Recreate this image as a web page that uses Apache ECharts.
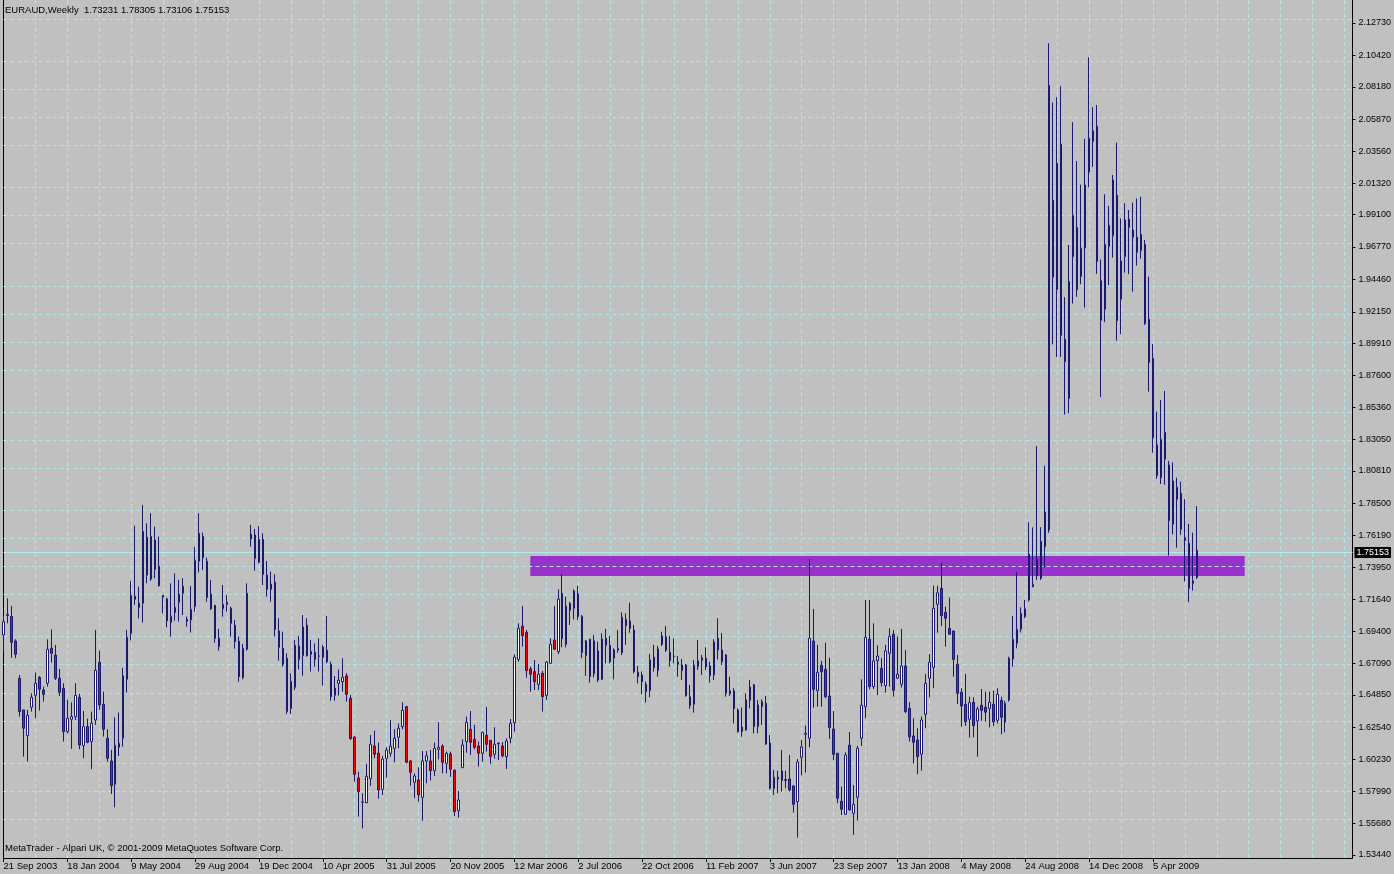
<!DOCTYPE html>
<html><head><meta charset="utf-8">
<script src="https://cdn.jsdelivr.net/npm/echarts@6/dist/echarts.min.js"></script>
<style>html,body{margin:0;padding:0;background:#C0C0C0;}#c{width:1394px;height:874px;}</style>
</head><body><div id="c"></div>
<script>
// Weekly EURAUD bars (index 0 = 21 Sep 2003)
const opens=[
1.6912,1.7050,1.7043,1.6869,1.6603,1.6378,1.6195,1.6397,1.6482,1.6610,
1.6520,1.6568,1.6817,1.6769,1.6603,1.6532,1.6223,1.6311,1.6330,1.6468,
1.6123,1.6259,1.6152,1.6306,1.6717,1.6418,1.6176,1.6014,1.5848,1.6112,
1.6176,1.6596,1.6924,1.7187,1.7138,1.7138,1.7608,1.7311,1.7589,1.7401,
1.7180,1.7168,1.7002,1.7073,1.7145,1.7209,1.7009,1.7019,1.7116,1.7437,
1.7613,1.7437,1.7202,1.7123,1.6829,1.7099,1.7128,1.7102,1.6981,1.6867,
1.6608,1.6810,1.7629,1.7624,1.7430,1.7593,1.7339,1.7237,1.7287,1.6940,
1.6817,1.6746,1.6387,1.6539,1.6833,1.6765,1.6981,1.6774,1.6788,1.6760,
1.6753,1.6803,1.6703,1.6482,1.6567,1.6579,1.6620,1.6461,1.6183,1.5893,
1.5720,1.5717,1.5888,1.6121,1.6069,1.5812,1.6033,1.6069,1.6104,1.6183,
1.6259,1.6401,1.6014,1.5862,1.5879,1.5755,1.6014,1.6014,1.5945,1.6097,
1.6121,1.5997,1.6064,1.5948,1.5660,1.5967,1.6152,1.6240,1.6168,1.6121,
1.6069,1.6197,1.6161,1.6062,1.6137,1.6121,1.6045,1.6176,1.6287,1.6738,
1.6974,1.6931,1.6670,1.6651,1.6560,1.6639,1.6482,1.6710,1.6876,1.6793,
1.7209,1.6845,1.7137,1.7102,1.7204,1.7045,1.6765,1.6881,1.6636,1.6798,
1.6596,1.6888,1.6838,1.6746,1.6805,1.6786,1.7023,1.7012,1.6947,1.6646,
1.6627,1.6560,1.6515,1.6753,1.6658,1.6845,1.6897,1.6788,1.6757,1.6719,
1.6658,1.6698,1.6470,1.6418,1.6686,1.6731,1.6746,1.6691,1.6627,1.6888,
1.6805,1.6769,1.6494,1.6513,1.6377,1.6256,1.6235,1.6446,1.6556,1.6259,
1.6401,1.6425,1.6142,1.5819,1.5898,1.5874,1.5881,1.5886,1.5836,1.5724,
1.6040,1.6204,1.6176,1.6869,1.6515,1.6696,1.6667,1.6477,1.6242,1.6069,
1.5727,1.5634,1.6126,1.5641,1.5755,1.6176,1.6401,1.6883,1.6544,1.6729,
1.6674,1.6551,1.6781,1.6917,1.6603,1.6560,1.6691,1.6389,1.6192,1.6164,
1.6062,1.6347,1.6603,1.6681,1.7130,1.7244,1.7073,1.6959,1.6940,1.6703,
1.6503,1.6418,1.6311,1.6432,1.6299,1.6411,1.6397,1.6389,1.6418,1.6304,
1.6446,1.6290,1.6449,1.6741,1.6852,1.6952,1.7042,1.7161,1.7256,1.7451,
1.7316,1.7540,1.7660,2.0009,1.9373,2.0409,1.9019,1.8597,1.9607,1.9816,
1.9467,1.9670,2.0210,2.0429,2.0536,1.9436,1.9233,1.9679,1.9757,2.0045,
1.9304,1.9608,1.9874,1.9798,1.9746,1.9651,1.9696,1.9161,1.8883,1.8266,
1.8033,1.8356,1.8123,1.7701,1.7964,1.7922,1.7584,1.7565,1.7297,1.73231];
const highs=[
1.7047,1.7173,1.7119,1.6881,1.6627,1.6378,1.6378,1.6496,1.6644,1.6620,
1.6544,1.6881,1.6952,1.6841,1.6670,1.6568,1.6449,1.6432,1.6568,1.6492,
1.6370,1.6316,1.6366,1.6948,1.6800,1.6508,1.6240,1.6093,1.6325,1.6359,
1.6677,1.6948,1.7297,1.7691,1.7256,1.7838,1.7708,1.7779,1.7684,1.7613,
1.7195,1.7178,1.7280,1.7351,1.7304,1.7316,1.7043,1.7261,1.7541,1.7779,
1.7641,1.7463,1.7304,1.7126,1.6955,1.7268,1.7197,1.7114,1.7019,1.6900,
1.6848,1.7280,1.7696,1.7667,1.7688,1.7636,1.7439,1.7363,1.7344,1.7031,
1.6936,1.6781,1.6639,1.6876,1.6905,1.7054,1.7031,1.6876,1.6852,1.6888,
1.6841,1.7047,1.6722,1.6620,1.6667,1.6746,1.6639,1.6484,1.6192,1.5938,
1.5784,1.5993,1.6199,1.6230,1.6145,1.6050,1.6111,1.6306,1.6240,1.6282,
1.6432,1.6406,1.6021,1.5926,1.5969,1.6085,1.6085,1.6092,1.6145,1.6290,
1.6133,1.6081,1.6081,1.5955,1.5800,1.6168,1.6330,1.6370,1.6271,1.6152,
1.6223,1.6399,1.6161,1.6254,1.6145,1.6149,1.6176,1.6313,1.6774,1.6995,
1.7118,1.6947,1.6686,1.6734,1.6705,1.6655,1.6727,1.6888,1.7118,1.7237,
1.7346,1.7185,1.7147,1.7237,1.7261,1.7054,1.6876,1.6886,1.6912,1.6864,
1.6924,1.6955,1.6905,1.6817,1.6947,1.7073,1.7066,1.7142,1.6983,1.6691,
1.6651,1.6579,1.6776,1.6841,1.6833,1.6935,1.6976,1.6905,1.6888,1.6762,
1.6741,1.6705,1.6556,1.6734,1.6876,1.6769,1.6824,1.6722,1.6881,1.7031,
1.6924,1.6776,1.6615,1.6532,1.6389,1.6394,1.6496,1.6591,1.6563,1.6449,
1.6453,1.6477,1.6199,1.5950,1.5945,1.6092,1.5945,1.6057,1.5843,1.6028,
1.6164,1.6266,1.7453,1.7097,1.6841,1.6727,1.6857,1.6750,1.6370,1.6069,
1.5831,1.6076,1.6221,1.5843,1.6121,1.6596,1.7161,1.7161,1.6995,1.6838,
1.6746,1.6841,1.6959,1.6947,1.6900,1.6955,1.6805,1.6432,1.6318,1.6247,
1.6330,1.6634,1.6776,1.7263,1.7263,1.7427,1.7114,1.7180,1.6943,1.6769,
1.6532,1.6634,1.6472,1.6468,1.6401,1.6527,1.6508,1.6508,1.6515,1.6532,
1.6472,1.6442,1.6757,1.7047,1.7363,1.7109,1.7161,1.7715,1.7679,1.8258,
1.7680,1.8118,2.1129,2.0706,2.0744,2.0823,1.9319,1.9691,2.0566,2.0289,
2.0121,2.0447,2.1029,2.0673,2.0688,1.9587,2.0052,1.9969,2.0190,2.0420,
1.9881,1.9988,1.9940,1.9993,2.0023,2.0035,1.9727,1.9465,1.8986,1.8503,
1.8587,1.8651,1.8152,1.8142,1.8033,1.8005,1.7881,1.7703,1.7641,1.78305];
const lows=[
1.6793,1.6995,1.6750,1.6746,1.6330,1.6045,1.6009,1.6366,1.6318,1.6373,
1.6437,1.6544,1.6715,1.6591,1.6477,1.6152,1.6211,1.6100,1.6306,1.6097,
1.6033,1.6140,1.5955,1.6271,1.6378,1.6188,1.6009,1.5779,1.5684,1.6050,
1.6116,1.6501,1.6872,1.7126,1.7031,1.7000,1.7280,1.7297,1.7316,1.7256,
1.7066,1.6967,1.6900,1.7014,1.7007,1.7054,1.6971,1.6929,1.7078,1.7358,
1.7375,1.7149,1.7090,1.6857,1.6800,1.7042,1.7078,1.6900,1.6814,1.6579,
1.6596,1.6800,1.7541,1.7370,1.7422,1.7268,1.7185,1.7149,1.6900,1.6729,
1.6686,1.6349,1.6349,1.6520,1.6667,1.6622,1.6757,1.6651,1.6686,1.6651,
1.6551,1.6710,1.6444,1.6444,1.6480,1.6508,1.6437,1.6164,1.5867,1.5617,
1.5534,1.5713,1.5836,1.6033,1.5746,1.5772,1.5895,1.6045,1.6005,1.6104,
1.6240,1.5997,1.5838,1.5748,1.5724,1.5589,1.5855,1.5874,1.5907,1.6026,
1.5926,1.5926,1.5902,1.5622,1.5610,1.5962,1.6073,1.6057,1.6097,1.5974,
1.6009,1.6081,1.5993,1.6031,1.6021,1.6040,1.5957,1.6140,1.6223,1.6722,
1.6829,1.6608,1.6508,1.6520,1.6520,1.6366,1.6449,1.6705,1.6805,1.6776,
1.6824,1.6824,1.6983,1.7023,1.7019,1.6746,1.6620,1.6572,1.6610,1.6577,
1.6591,1.6710,1.6710,1.6596,1.6786,1.6769,1.6841,1.6928,1.6639,1.6567,
1.6489,1.6430,1.6468,1.6651,1.6615,1.6833,1.6791,1.6686,1.6710,1.6615,
1.6591,1.6472,1.6385,1.6358,1.6662,1.6627,1.6662,1.6572,1.6591,1.6738,
1.6698,1.6472,1.6477,1.6282,1.6216,1.6187,1.6230,1.6389,1.6211,1.6211,
1.6271,1.6128,1.5812,1.5772,1.5784,1.5796,1.5819,1.5796,1.5646,1.5468,
1.5912,1.5931,1.6111,1.6394,1.6401,1.6401,1.6461,1.6171,1.6021,1.5712,
1.5629,1.5629,1.5660,1.5487,1.5589,1.6121,1.6318,1.6525,1.6527,1.6484,
1.6544,1.6501,1.6544,1.6472,1.6598,1.6537,1.6354,1.6152,1.5997,1.5919,
1.5945,1.6247,1.6468,1.6532,1.6928,1.6976,1.6829,1.6917,1.6615,1.6420,
1.6259,1.6264,1.6180,1.6183,1.6045,1.6301,1.6294,1.6254,1.6264,1.6282,
1.6204,1.6218,1.6437,1.6686,1.6817,1.6930,1.7031,1.7150,1.7251,1.7304,
1.7304,1.7393,1.7640,1.8983,1.8894,1.8894,1.8482,1.8492,1.9273,1.9322,
1.9411,1.9245,2.0103,2.0248,1.9485,1.8607,1.9141,1.9406,1.9601,1.9009,
1.9057,1.9494,1.9484,1.9358,1.9544,1.9594,1.9121,1.8646,1.8211,1.8024,
1.7988,1.7983,1.7477,1.7629,1.7534,1.7625,1.7292,1.7145,1.7228,1.73106];
const closes=[
1.7007,1.7059,1.6860,1.6774,1.6366,1.6247,1.6340,1.6468,1.6568,1.6525,
1.6489,1.6810,1.6781,1.6603,1.6503,1.6223,1.6318,1.6330,1.6482,1.6128,
1.6259,1.6147,1.6283,1.6660,1.6413,1.6240,1.6033,1.5838,1.6126,1.6140,
1.6620,1.6895,1.7195,1.7166,1.7109,1.7650,1.7339,1.7615,1.7380,1.7263,
1.7195,1.7012,1.7045,1.7109,1.7202,1.7259,1.7024,1.7095,1.7444,1.7636,
1.7463,1.7180,1.7099,1.6888,1.6888,1.7130,1.7145,1.6995,1.6864,1.6615,
1.6817,1.7209,1.7596,1.7458,1.7593,1.7344,1.7237,1.7275,1.6952,1.6824,
1.6703,1.6366,1.6582,1.6838,1.6738,1.6969,1.6765,1.6795,1.6738,1.6762,
1.6826,1.6722,1.6472,1.6534,1.6589,1.6610,1.6489,1.6173,1.5919,1.5796,
1.5722,1.5905,1.6133,1.6062,1.5807,1.6028,1.6092,1.6119,1.6176,1.6247,
1.6375,1.6005,1.5933,1.5907,1.5772,1.6014,1.6050,1.5945,1.6104,1.6111,
1.6005,1.6069,1.5955,1.5653,1.5736,1.6128,1.6290,1.6147,1.6111,1.6069,
1.6218,1.6133,1.6047,1.6133,1.6142,1.6050,1.6157,1.6282,1.6753,1.6959,
1.6907,1.6658,1.6632,1.6579,1.6632,1.6472,1.6719,1.6845,1.6810,1.7168,
1.6886,1.7118,1.7088,1.7225,1.7042,1.6788,1.6869,1.6615,1.6871,1.6591,
1.6883,1.6838,1.6722,1.6805,1.6817,1.7038,1.6978,1.6959,1.6651,1.6615,
1.6579,1.6508,1.6734,1.6679,1.6812,1.6905,1.6803,1.6729,1.6760,1.6703,
1.6698,1.6480,1.6408,1.6696,1.6727,1.6748,1.6684,1.6622,1.6862,1.6805,
1.6722,1.6496,1.6513,1.6387,1.6223,1.6223,1.6449,1.6541,1.6259,1.6413,
1.6437,1.6135,1.5819,1.5898,1.5886,1.5943,1.5876,1.5807,1.5705,1.6007,
1.6114,1.6211,1.6888,1.6525,1.6646,1.6651,1.6472,1.6252,1.6062,1.5748,
1.5670,1.6057,1.5665,1.5705,1.6104,1.6411,1.6895,1.6544,1.6727,1.6762,
1.6572,1.6798,1.6902,1.6518,1.6632,1.6691,1.6366,1.6187,1.6147,1.6045,
1.6306,1.6567,1.6717,1.7102,1.7213,1.7050,1.7031,1.6917,1.6738,1.6496,
1.6406,1.6294,1.6430,1.6266,1.6385,1.6375,1.6361,1.6432,1.6294,1.6489,
1.6325,1.6425,1.6746,1.6881,1.6952,1.7066,1.7097,1.7487,1.7273,1.7334,
1.7578,1.7787,2.0828,1.9462,2.0274,1.9047,1.8861,1.9431,1.9902,1.9373,
1.9668,2.0118,2.0452,2.0505,1.9574,1.9154,1.9696,1.9831,2.0154,1.9152,
1.9577,1.9869,1.9817,1.9746,1.9639,1.9767,1.9133,1.8855,1.8318,1.8047,
1.8306,1.8164,1.7727,1.8009,1.7879,1.7665,1.7606,1.7245,1.7280,1.75153];

const xTickLabels=['21 Sep 2003','18 Jan 2004','9 May 2004','29 Aug 2004','19 Dec 2004','10 Apr 2005','31 Jul 2005','20 Nov 2005','12 Mar 2006','2 Jul 2006','22 Oct 2006','11 Feb 2007','3 Jun 2007','23 Sep 2007','13 Jan 2008','4 May 2008','24 Aug 2008','14 Dec 2008','5 Apr 2009'];
const yTickLabels=['1.53440','1.55680','1.57990','1.60230','1.62540','1.64850','1.67090','1.69400','1.71640','1.73950','1.76190','1.78500','1.80810','1.83050','1.85360','1.87600','1.89910','1.92150','1.94460','1.96770','1.99100','2.01320','2.03560','2.05870','2.08180','2.10420','2.12730'];
const headerText='EURAUD,Weekly  1.73231 1.78305 1.73106 1.75153';
const footerText='MetaTrader - Alpari UK, \u00A9 2001-2009 MetaQuotes Software Corp.';
const currentPrice=1.75153;
const zone={from:132,to:311,top:1.7475,bottom:1.7332};
const SLOTS=339;
const LABEL_STEP=16, GRID_STEP=8;
const yMin=1.53226, yMax=2.14367;

const cats=Array.from({length:SLOTS},(_,i)=>String(i));
const ohlc=opens.map((o,i)=>[o,closes[i],lows[i],highs[i]]);
const yVals=yTickLabels.map(Number);
const gridColor='#B2E6E6';
const font='Liberation Sans, Arial, sans-serif';
const isLabelIdx=(i)=> i%LABEL_STEP===0 && (i/LABEL_STEP)<xTickLabels.length;

const chart=echarts.init(document.getElementById('c'));
chart.setOption({
  backgroundColor:'#C0C0C0',
  animation:false,
  title:[
    {text:headerText,left:5,top:5,padding:0,textStyle:{fontFamily:font,fontSize:9.5,fontWeight:'normal',color:'#000'}},
    {text:footerText,left:5,top:843,padding:0,textStyle:{fontFamily:font,fontSize:9.5,fontWeight:'normal',color:'#000'}}
  ],
  grid:{left:3.5,right:38.5,top:0,bottom:16},
  xAxis:{
    type:'category',data:cats,boundaryGap:false,
    axisLine:{lineStyle:{color:'#000',width:1}},
    axisTick:{interval:(i)=>isLabelIdx(i),length:4,lineStyle:{color:'#000'}},
    axisLabel:{interval:(i)=>isLabelIdx(i),formatter:(v,i)=>isLabelIdx(i)?xTickLabels[i/LABEL_STEP]:'',align:'left',margin:3,fontFamily:font,fontSize:9.5,color:'#000'},
    splitLine:{show:true,interval:(i)=>i%GRID_STEP===0,lineStyle:{color:gridColor,type:[4,3],width:1}}
  },
  yAxis:[
    {type:'value',position:'right',min:yMin,max:yMax,
     axisLine:{show:true,lineStyle:{color:'#000'}},
     axisTick:{show:true,customValues:yVals,length:3,lineStyle:{color:'#000'}},
     axisLabel:{customValues:yVals,formatter:(v)=>v.toFixed(5),margin:6,fontFamily:font,fontSize:9,color:'#000'},
     splitLine:{show:false}},
    {type:'value',position:'left',min:yMin,max:yMax,
     axisLine:{show:true,lineStyle:{color:'#000'}},axisTick:{show:false},axisLabel:{show:false},splitLine:{show:false}}
  ],
  series:[{
    type:'candlestick',data:ohlc,barWidth:2,z:3,
    itemStyle:{color:'#FFFFFF',color0:'#FF0000',borderColor:'#191970',borderColor0:'#191970',borderColorDoji:'#191970',borderWidth:1},
    markArea:{silent:true,z:1,itemStyle:{color:'#9932CC',opacity:1},
      data:[[{xAxis:String(zone.from),yAxis:zone.top},{xAxis:String(zone.to),yAxis:zone.bottom}]]},
    markLine:{silent:true,z:2,symbol:['none','none'],animation:false,label:{show:false},
      data:yVals.map(v=>({yAxis:v,lineStyle:{color:gridColor,type:[4,3],width:1}})).concat([
        {yAxis:currentPrice,lineStyle:{color:'#AFEEEE',type:'solid',width:1},
         label:{show:true,position:'end',distance:2,formatter:currentPrice.toFixed(5),backgroundColor:'#000',color:'#fff',padding:[1,2,1,2],fontFamily:font,fontSize:9}}
      ])}
  }]
});
</script></body></html>
